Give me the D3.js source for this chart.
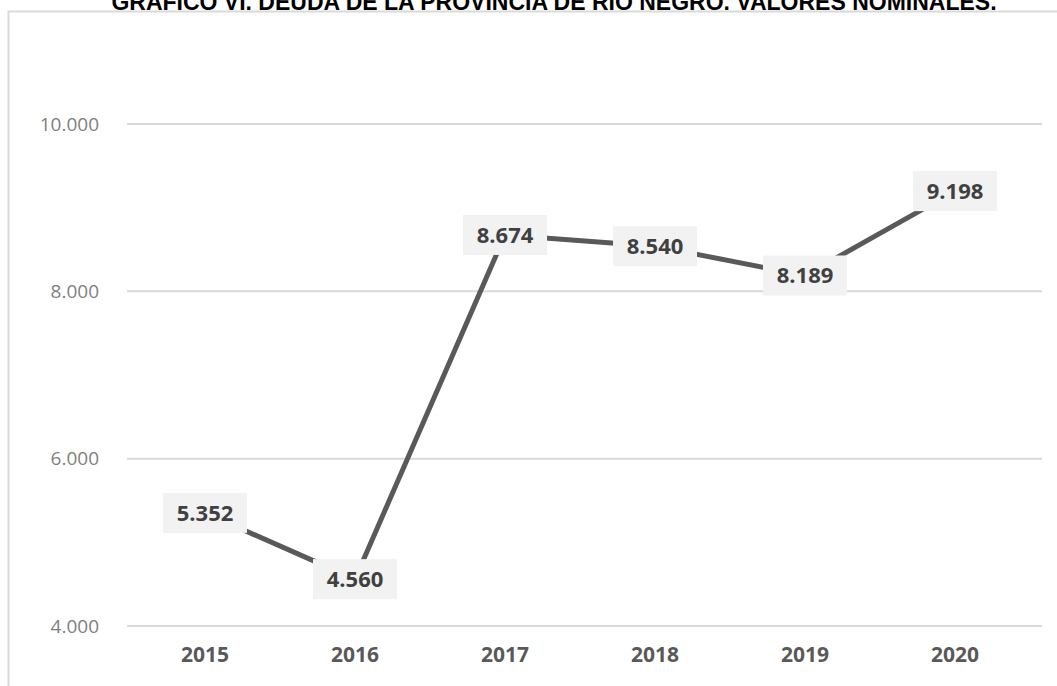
<!DOCTYPE html>
<html>
<head>
<meta charset="utf-8">
<script src="https://cdn.jsdelivr.net/npm/d3@7"></script>
<style>
  body { margin: 0; background: #fff; overflow: hidden; }
</style>
</head>
<body>
<svg id="svg1"></svg>
<script>
var years = ['2015', '2016', '2017', '2018', '2019', '2020'];
var deuda = [5352, 4560, 8674, 8540, 8189, 9198];
var yTicks = [4000, 6000, 8000, 10000];
var titulo = 'GRÁFICO VI. DEUDA DE LA PROVINCIA DE RÍO NEGRO. VALORES NOMINALES.';

var width = 1057, height = 686;
var svg = d3.select('#svg1').attr('width', width).attr('height', height);

var fmt = d3.formatLocale({decimal: ',', thousands: '.', grouping: [3], currency: ['$', '']}).format(',d');

// title (cut at top in the original)
svg.append('text')
    .attr('x', 554).attr('y', 10)
    .attr('text-anchor', 'middle')
    .style('font-family', 'Liberation Sans, Arial, sans-serif')
    .style('font-weight', 'bold')
    .style('font-size', '23px')
    .text(titulo);

// chart frame
svg.append('rect')
    .attr('x', 8.5).attr('y', 11.5)
    .attr('width', 1070).attr('height', 700)
    .attr('fill', '#fff')
    .attr('stroke', '#d9d9d9')
    .attr('stroke-width', 2);

var xScale = d3.scaleBand().domain(years).range([130, 1030]);
var yScale = d3.scaleLinear().domain([4000, 10000]).range([626, 124]);

// gridlines
svg.append('g').selectAll('line').data(yTicks).enter().append('line')
    .attr('x1', 127).attr('x2', 1042)
    .attr('y1', function(d) { return yScale(d); })
    .attr('y2', function(d) { return yScale(d); })
    .attr('stroke', '#d9d9d9')
    .attr('stroke-width', 2);

// y axis labels
var yAxis = d3.axisLeft(yScale).tickValues(yTicks).tickFormat(fmt).tickSize(0).tickPadding(0);
var gy = svg.append('g').attr('transform', 'translate(99,0)').call(yAxis);
gy.select('.domain').remove();
gy.selectAll('text')
    .style('font-family', 'Open Sans, Liberation Sans, sans-serif')
    .style('font-size', '19px')
    .attr('fill', '#7f7f7f');

// x axis labels
var xAxis = d3.axisBottom(xScale).tickSize(0).tickPadding(0);
var gx = svg.append('g').attr('transform', 'translate(0,647)').call(xAxis);
gx.select('.domain').remove();
gx.selectAll('text')
    .style('font-family', 'Open Sans, Liberation Sans, sans-serif')
    .style('font-size', '21px')
    .style('font-weight', 'bold')
    .attr('fill', '#595959');

// line
var line = d3.line()
    .x(function(d, i) { return xScale(years[i]) + xScale.bandwidth() / 2; })
    .y(function(d) { return yScale(d); });

svg.append('path')
    .datum(deuda)
    .attr('d', line)
    .attr('fill', 'none')
    .attr('stroke', '#595959')
    .attr('stroke-width', 5);

// data labels
var lab = svg.append('g').selectAll('g').data(deuda).enter().append('g')
    .attr('transform', function(d, i) {
        return 'translate(' + (xScale(years[i]) + xScale.bandwidth() / 2) + ',' + yScale(d) + ')';
    });
lab.append('rect')
    .attr('x', -42).attr('y', -20)
    .attr('width', 84).attr('height', 40)
    .attr('fill', '#f2f2f2');
lab.append('text')
    .attr('text-anchor', 'middle')
    .attr('dy', '0.36em')
    .style('font-family', 'Open Sans, Liberation Sans, sans-serif')
    .style('font-size', '22px')
    .style('font-weight', 'bold')
    .attr('fill', '#404040')
    .text(function(d) { return fmt(d); });
</script>
</body>
</html>
